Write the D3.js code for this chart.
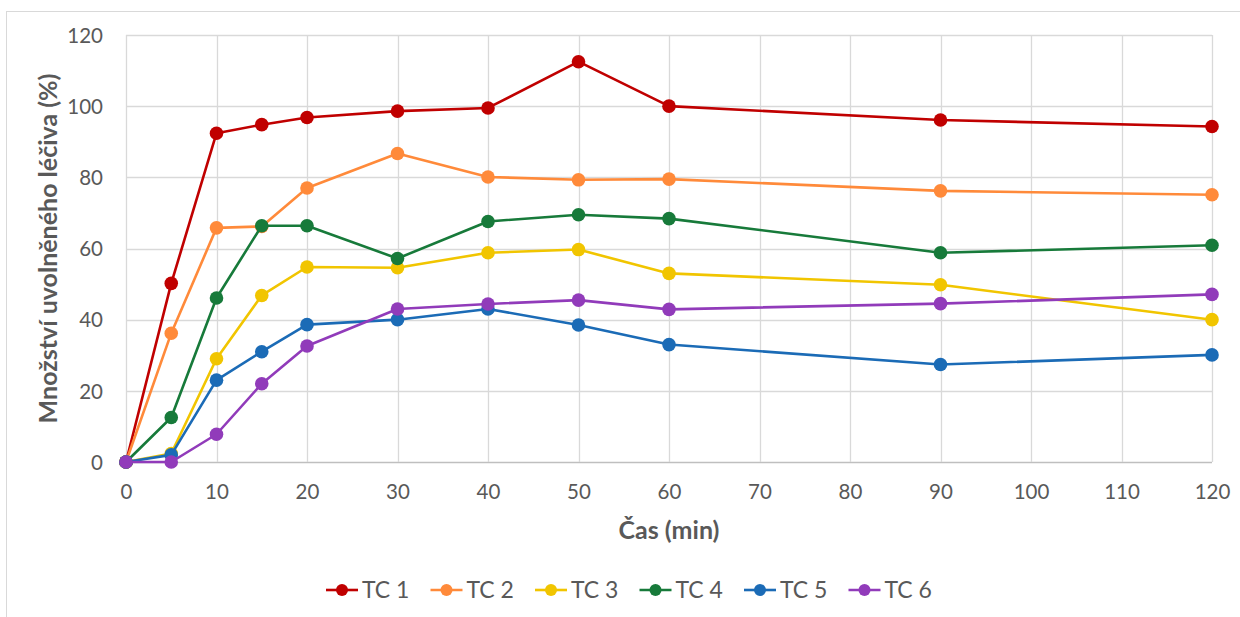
<!DOCTYPE html>
<html>
<head>
<meta charset="utf-8">
<script src="https://cdn.jsdelivr.net/npm/d3@7"></script>
<style>
  html, body { margin: 0; padding: 0; background: #fff; }
  svg { display: block; font-family: Lato, "Open Sans", sans-serif; }
</style>
</head>
<body>
<svg id="chart" width="1240" height="617"></svg>
<script>
// Sampling times (min)
const times = [0, 5, 10, 15, 20, 30, 40, 50, 60, 90, 120];
// Released drug amount (%) per formulation
const tc1 = [0, 50.2, 92.4, 94.8, 96.8, 98.6, 99.5, 112.5, 100.0, 96.1, 94.3];
const tc2 = [0, 36.2, 65.8, 66.2, 77.0, 86.7, 80.1, 79.3, 79.5, 76.2, 75.1];
const tc3 = [0, 2.4, 29.0, 46.8, 54.8, 54.6, 58.8, 59.7, 53.0, 49.8, 40.0];
const tc4 = [0, 12.5, 46.1, 66.4, 66.4, 57.2, 67.6, 69.5, 68.4, 58.8, 60.9];
const tc5 = [0, 2.0, 23.0, 31.0, 38.6, 40.0, 43.0, 38.5, 33.0, 27.4, 30.1];
const tc6 = [0, 0, 7.8, 22.0, 32.6, 43.0, 44.4, 45.5, 42.9, 44.5, 47.1];
const seriesNames = ["TC 1", "TC 2", "TC 3", "TC 4", "TC 5", "TC 6"];
const seriesColors = ["#C00000", "#FF8A3A", "#F1C500", "#177A3A", "#1B6BB6", "#913BBA"];
const xTicks = [0, 10, 20, 30, 40, 50, 60, 70, 80, 90, 100, 110, 120];
const yTicks = [0, 20, 40, 60, 80, 100, 120];

const seriesValues = [tc1, tc2, tc3, tc4, tc5, tc6];
const series = seriesNames.map((name, i) => ({
  name, color: seriesColors[i],
  points: times.map((t, j) => ({ t, v: seriesValues[i][j] }))
}));

const svg = d3.select("#chart");
const textColor = "#595959";

// Outer chart frame
svg.append("rect")
  .attr("x", 6.5).attr("y", 11.5)
  .attr("width", 1260).attr("height", 640)
  .attr("fill", "none").attr("stroke", "#d9d9d9").attr("stroke-width", 1);

const plot = { left: 126, right: 1212, top: 35, bottom: 462 };
const x = d3.scaleLinear().domain([0, 120]).range([plot.left, plot.right]);
const y = d3.scaleLinear().domain([0, 120]).range([plot.bottom, plot.top]);

// Gridlines
const grid = svg.append("g");
grid.selectAll("line.h").data(yTicks).join("line")
  .attr("x1", plot.left).attr("x2", plot.right)
  .attr("y1", d => Math.round(y(d)) + 0.5).attr("y2", d => Math.round(y(d)) + 0.5)
  .attr("stroke", d => d === 0 ? "#bfbfbf" : "#d9d9d9").attr("stroke-width", 1.3);
grid.selectAll("line.v").data(xTicks).join("line")
  .attr("y1", plot.top).attr("y2", plot.bottom)
  .attr("x1", d => Math.round(x(d)) + 0.5).attr("x2", d => Math.round(x(d)) + 0.5)
  .attr("stroke", "#d9d9d9").attr("stroke-width", 1.3);

// Axes (labels only)
const xAxis = svg.append("g")
  .attr("transform", `translate(0,${plot.bottom})`)
  .call(d3.axisBottom(x).tickValues(xTicks).tickSize(0).tickPadding(22));
const yAxis = svg.append("g")
  .attr("transform", `translate(${plot.left},0)`)
  .call(d3.axisLeft(y).tickValues(yTicks).tickSize(0).tickPadding(23));
[xAxis, yAxis].forEach(g => {
  g.select(".domain").remove();
  g.selectAll("text").attr("fill", textColor).style("font-size", "20.5px")
    .style("font-family", "Lato, 'Open Sans', sans-serif");
});
yAxis.selectAll("text").attr("dy", "0.35em");

// Axis titles
svg.append("text")
  .attr("x", x(60)).attr("y", 539)
  .attr("text-anchor", "middle").attr("fill", textColor)
  .style("font-size", "25px").style("font-weight", "bold")
  .text("Čas (min)");
svg.append("text")
  .attr("transform", `translate(57,${(plot.top + plot.bottom) / 2}) rotate(-90)`)
  .attr("text-anchor", "middle").attr("fill", textColor)
  .style("font-size", "25px").style("font-weight", "bold")
  .text("Množství uvolněného léčiva (%)");

// Series lines and markers
const line = d3.line().x(d => x(d.t)).y(d => y(d.v));
const sg = svg.append("g").selectAll("g").data(series).join("g");
sg.append("path")
  .attr("d", d => line(d.points))
  .attr("fill", "none").attr("stroke", d => d.color)
  .attr("stroke-width", 2.6).attr("stroke-linejoin", "round");
sg.selectAll("circle").data(d => d.points.map(p => ({ ...p, color: d.color }))).join("circle")
  .attr("cx", d => x(d.t)).attr("cy", d => y(d.v)).attr("r", 6.8)
  .attr("fill", d => d.color);

// Legend
const legendStart = 326, legendStep = 104.5, legendY = 590;
const lg = svg.append("g").selectAll("g").data(series).join("g")
  .attr("transform", (d, i) => `translate(${legendStart + i * legendStep},${legendY})`);
lg.append("line").attr("x1", 0).attr("x2", 32).attr("y1", 0).attr("y2", 0)
  .attr("stroke", d => d.color).attr("stroke-width", 2.6);
lg.append("circle").attr("cx", 16).attr("cy", 0).attr("r", 6).attr("fill", d => d.color);
lg.append("text").attr("x", 36).attr("y", 0).attr("dy", "0.35em")
  .attr("fill", textColor).style("font-size", "23px")
  .text(d => d.name);
</script>
</body>
</html>
